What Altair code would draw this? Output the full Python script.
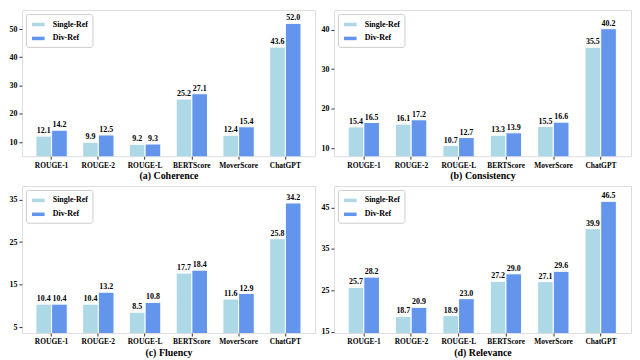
import altair as alt
import pandas as pd

metrics = ["ROUGE-1", "ROUGE-2", "ROUGE-L", "BERTScore", "MoverScore", "ChatGPT"]
series = ["Single-Ref", "Div-Ref"]

coh_single = [12.1, 9.9, 9.2, 25.2, 12.4, 43.6]
coh_div = [14.2, 12.5, 9.3, 27.1, 15.4, 52.0]
con_single = [15.4, 16.1, 10.7, 13.3, 15.5, 35.5]
con_div = [16.5, 17.2, 12.7, 13.9, 16.6, 40.2]
flu_single = [10.4, 10.4, 8.5, 17.7, 11.6, 25.8]
flu_div = [10.4, 13.2, 10.8, 18.4, 12.9, 34.2]
rel_single = [25.7, 18.7, 18.9, 27.2, 27.1, 39.9]
rel_div = [28.2, 20.9, 23.0, 29.0, 29.6, 46.5]

titles = ["(a) Coherence", "(b) Consistency", "(c) Fluency", "(d) Relevance"]
domains = [[5, 56.7], [8, 44.9], [3.6, 38.2], [14.7, 50.2]]
ticks = [[10, 20, 30, 40, 50], [10, 20, 30, 40], [5, 15, 25, 35], [15, 25, 35, 45]]

colors = ["#ADD8E6", "#6495ED"]
FONT = "Liberation Serif"


def make_df(single, div):
    rows = []
    for m, s, d in zip(metrics, single, div):
        rows.append({"metric": m, "series": "Single-Ref", "value": s, "label": f"{s:.1f}"})
        rows.append({"metric": m, "series": "Div-Ref", "value": d, "label": f"{d:.1f}"})
    return pd.DataFrame(rows)


def panel(single, div, title, domain, tick_vals, width, height):
    df = make_df(single, div)
    x = alt.X("metric:N", sort=metrics,
              scale=alt.Scale(paddingInner=0.33, paddingOuter=0.3),
              axis=alt.Axis(title=title, labelAngle=0, labelFontSize=7.5, labelFontWeight="bold",
                            labelFont=FONT, titleFont=FONT, titleFontSize=10,
                            titleFontWeight="bold", titlePadding=2, labelPadding=2,
                            tickSize=3, domain=False, tickColor="#333", labelColor="black",
                            titleColor="black", labelOverlap=False))
    xo = alt.XOffset("series:N", sort=series, scale=alt.Scale(paddingInner=0, paddingOuter=0))
    y = alt.Y("value:Q", scale=alt.Scale(domain=domain, zero=False, nice=False),
              axis=alt.Axis(title=None, values=tick_vals, grid=False, labelFontSize=8,
                            labelFontWeight="bold", labelFont=FONT, tickSize=3, domain=False,
                            tickColor="#333", labelColor="black", labelPadding=2,
                            labelOverlap=False, labelFlush=False))
    color = alt.Color("series:N", sort=series,
                      scale=alt.Scale(domain=series, range=colors),
                      legend=alt.Legend(title=None, orient="top-left", offset=4,
                                        fillColor="white", strokeColor="#cccccc",
                                        padding=4, cornerRadius=2,
                                        symbolType="M-1,-0.28H1V0.28H-1Z", symbolSize=160,
                                        symbolStrokeWidth=0, labelFont=FONT, labelFontSize=8,
                                        labelFontWeight="bold", labelColor="black",
                                        rowPadding=3, symbolOffset=2, labelOffset=8))
    bars = alt.Chart(df).mark_bar(clip=True, stroke="white", strokeWidth=1).encode(
        x=x, xOffset=xo, y=y, color=color)
    text = alt.Chart(df).mark_text(baseline="bottom", dy=-1, font=FONT, fontSize=8,
                                   fontWeight="bold", color="black").encode(
        x=x, xOffset=xo, y=y, text="label:N")
    return alt.layer(bars, text).properties(width=width, height=height)


a = panel(coh_single, coh_div, titles[0], domains[0], ticks[0], 295, 147)
b = panel(con_single, con_div, titles[1], domains[1], ticks[1], 299, 147)
c = panel(flu_single, flu_div, titles[2], domains[2], ticks[2], 295, 148)
d = panel(rel_single, rel_div, titles[3], domains[3], ticks[3], 299, 148)

row1 = alt.hconcat(a, b, spacing=4).resolve_scale(color="independent")
row2 = alt.hconcat(c, d, spacing=4).resolve_scale(color="independent")
chart = alt.vconcat(row1, row2, spacing=4).resolve_scale(color="independent").properties(
    padding=0
).configure_view(stroke="#444444", strokeWidth=1).configure(font=FONT, background="white")

chart.save("out.html", embed_options={"renderer": "svg", "actions": False})
